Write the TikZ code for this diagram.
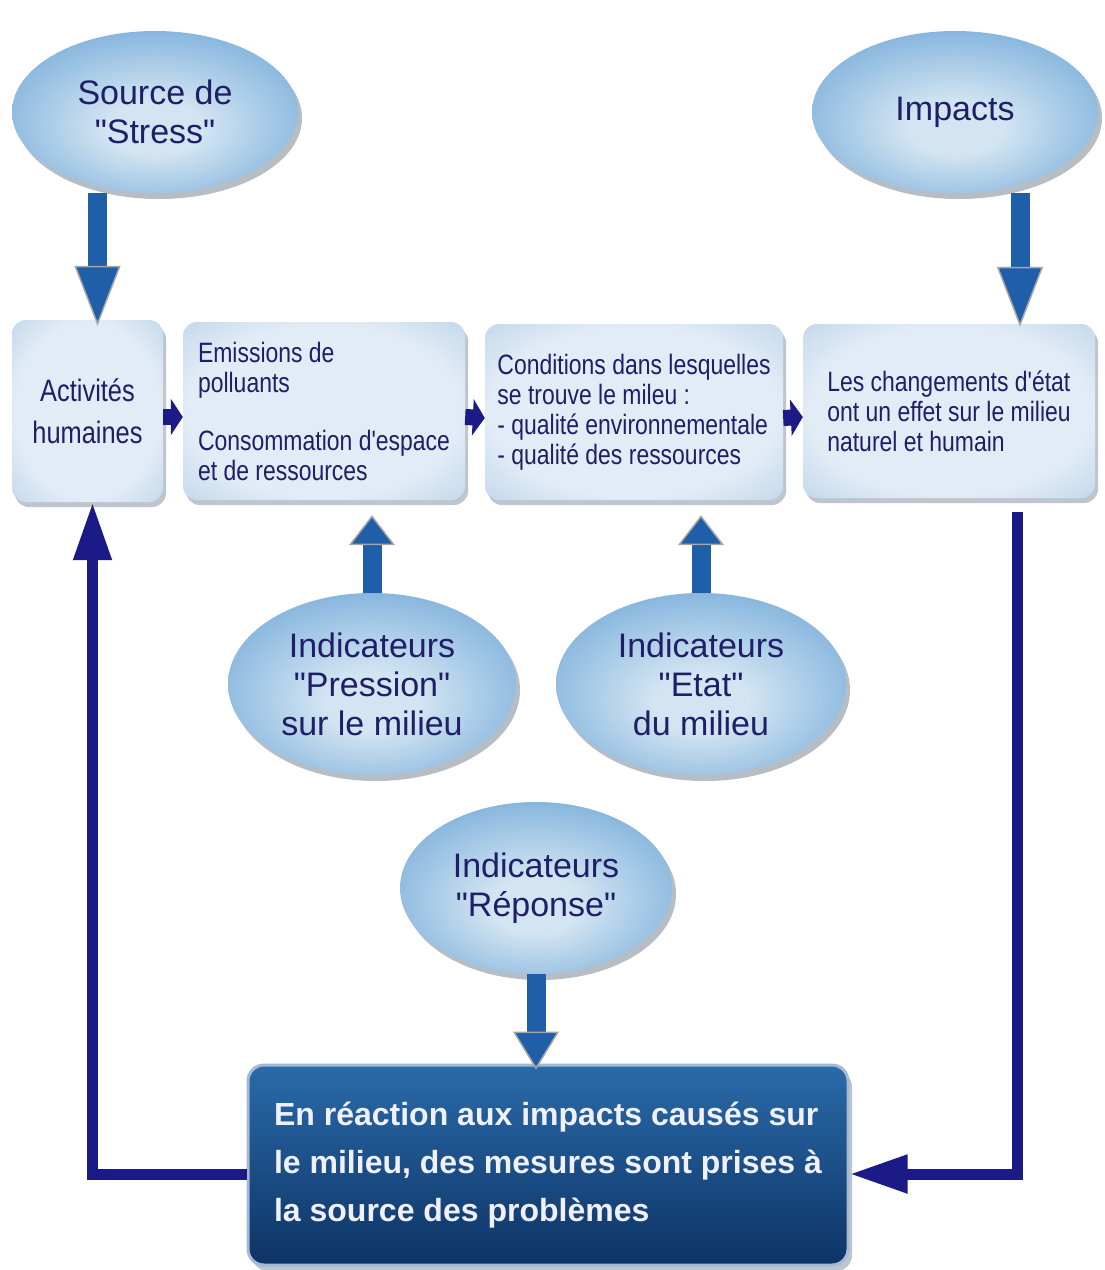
\documentclass[tikz,border=0pt]{standalone}
\usepackage{fontspec}
\setmainfont{Liberation Sans}[Ligatures=TeXOff]
\newfontfamily\narrowsans{Liberation Sans}[FakeStretch=0.82, Ligatures=TeXOff]
\usetikzlibrary{shapes.geometric, arrows.meta, shadows, positioning}

\definecolor{inktext}{HTML}{1E1F66}
\definecolor{loopnavy}{HTML}{1B1A86}
\definecolor{arrowblue}{HTML}{1F5EA8}
\definecolor{ovalrim}{HTML}{2F6FB0}
\definecolor{ovaledge}{HTML}{4F90C8}
\definecolor{ovalmid}{HTML}{8FBBE0}
\definecolor{ovalcore}{HTML}{D3E5F2}
\definecolor{boxrim}{HTML}{9CBFDF}
\definecolor{boxcore}{HTML}{E2ECF6}
\definecolor{deeptop}{HTML}{2A6BAA}
\definecolor{deepbot}{HTML}{0D3364}
\definecolor{deeprim}{HTML}{A3B9D6}
\definecolor{shadowgray}{HTML}{4A5A70}

\pgfdeclareradialshading{ovalglow}{\pgfpoint{0bp}{-6bp}}{color(0bp)=(ovalcore); color(8bp)=(ovalcore); color(26bp)=(ovalmid); color(40bp)=(ovaledge); color(50bp)=(ovalrim)}
\pgfdeclareradialshading{stageglow}{\pgfpoint{0bp}{0bp}}{color(0bp)=(boxcore); color(24bp)=(boxcore); color(50bp)=(boxrim)}

\tikzset{
  oval/.style={ellipse, inner sep=0pt, shading=ovalglow, text=inktext, align=center,
    font=\fontsize{34}{39}\selectfont,
    drop shadow={shadow xshift=4pt, shadow yshift=-6pt, opacity=0.4, fill=shadowgray}},
  stage/.style={rounded corners=14pt, shading=stageglow, text=inktext, align=left, inner sep=0pt,
    font=\narrowsans\fontsize{28}{30}\selectfont,
    drop shadow={shadow xshift=3pt, shadow yshift=-5pt, opacity=0.35, fill=shadowgray}},
  verdict/.style={rounded corners=16pt, top color=deeptop, bottom color=deepbot, draw=deeprim,
    line width=3pt, text=white!94!blue, align=left, inner sep=0pt,
    font=\bfseries\fontsize{32}{48}\selectfont,
    drop shadow={shadow xshift=4pt, shadow yshift=-6pt, opacity=0.35, fill=shadowgray}},
  feed/.style={line width=19pt, draw=arrowblue,
    -{Triangle[length=#1, width=46pt, fill=arrowblue, color=gray!70, line width=1.5pt]}},
  feed/.default=32pt,
  loopline/.style={line width=11pt, draw=loopnavy, -{Triangle[length=58pt, width=36pt]}},
  nudge/.style={line width=16pt, draw=loopnavy, -{Triangle[length=12pt, width=36pt]}}
}

\begin{document}
\begin{tikzpicture}[x=1pt, y=-1pt]
  \useasboundingbox[fill=white] (0,0) rectangle (1104,1270);

  % Sources
  \node [oval, minimum width=286pt, minimum height=162pt] (src) at (155,112) {Source de\\"Stress"};
  \node [oval, minimum width=286pt, minimum height=162pt] (imp) at (955,112) {Impacts};

  % Chain of boxes
  \node [stage, minimum width=151pt, minimum height=182pt, align=center,
         font=\narrowsans\fontsize{31}{42}\selectfont] (act) at (87.5,411) {Activités\\humaines};
  \node [stage, minimum width=282pt, minimum height=178pt] (emi) at (324,411)
        {Emissions de\\polluants\\[28pt]Consommation d'espace\\et de ressources};
  \node [stage, minimum width=298pt, minimum height=176pt] (cond) at (634,412)
        {Conditions dans lesquelles\\se trouve le mileu :\\- qualité environnementale\\- qualité des ressources};
  \node [stage, minimum width=292pt, minimum height=174pt] (chg) at (949,411)
        {Les changements d'état\\ont un effet sur le milieu\\naturel et humain};

  % Indicators
  \node [oval, minimum width=288pt, minimum height=182pt] (pres) at (372,684) {Indicateurs\\"Pression"\\sur le milieu};
  \node [oval, minimum width=290pt, minimum height=182pt] (etat) at (701,684) {Indicateurs\\"Etat"\\du milieu};
  \node [oval, minimum width=272pt, minimum height=172pt] (rep) at (536,888) {Indicateurs\\"Réponse"};

  % Response
  \node [verdict, minimum width=600pt, minimum height=200pt] (resp) at (548,1165)
        {En réaction aux impacts causés sur\\le milieu, des mesures sont prises à\\la source des problèmes};

  % Small arrows along the chain
  \draw [nudge] ([yshift=-6pt]act.east) -- ([yshift=-6pt]emi.west);
  \draw [nudge] ([yshift=-6pt]emi.east) -- ([yshift=-6pt]cond.west);
  \draw [nudge] ([yshift=-6pt]cond.east) -- ([yshift=-6pt]chg.west);

  % Big arrows
  \coordinate (stressfoot) at ([xshift=10pt]act.north);
  \coordinate (impactfoot) at ([xshift=71pt]chg.north);
  \coordinate (presgoal) at (pres.north |- emi.south);
  \coordinate (etatgoal) at (etat.north |- cond.south);
  \coordinate (repgoal) at (rep.south |- resp.north);
  \draw [feed=60pt] (stressfoot |- src.south) -- ([yshift=-6pt]stressfoot);
  \draw [feed=60pt] (impactfoot |- imp.south) -- ([yshift=-3pt]impactfoot);
  \draw [feed=30pt] (pres.north) -- ([yshift=-15pt]presgoal);
  \draw [feed=30pt] (etat.north) -- ([yshift=-15pt]etatgoal);
  \draw [feed=38pt] (rep.south) -- ([yshift=-6pt]repgoal);

  % Feedback loop
  \draw [loopline] ([xshift=68pt, yshift=-14pt]chg.south) |- ([yshift=-9pt]resp.east);
  \draw [loopline] ([yshift=-9pt]resp.west) -| ([xshift=5pt]act.south);
\end{tikzpicture}
\end{document}
